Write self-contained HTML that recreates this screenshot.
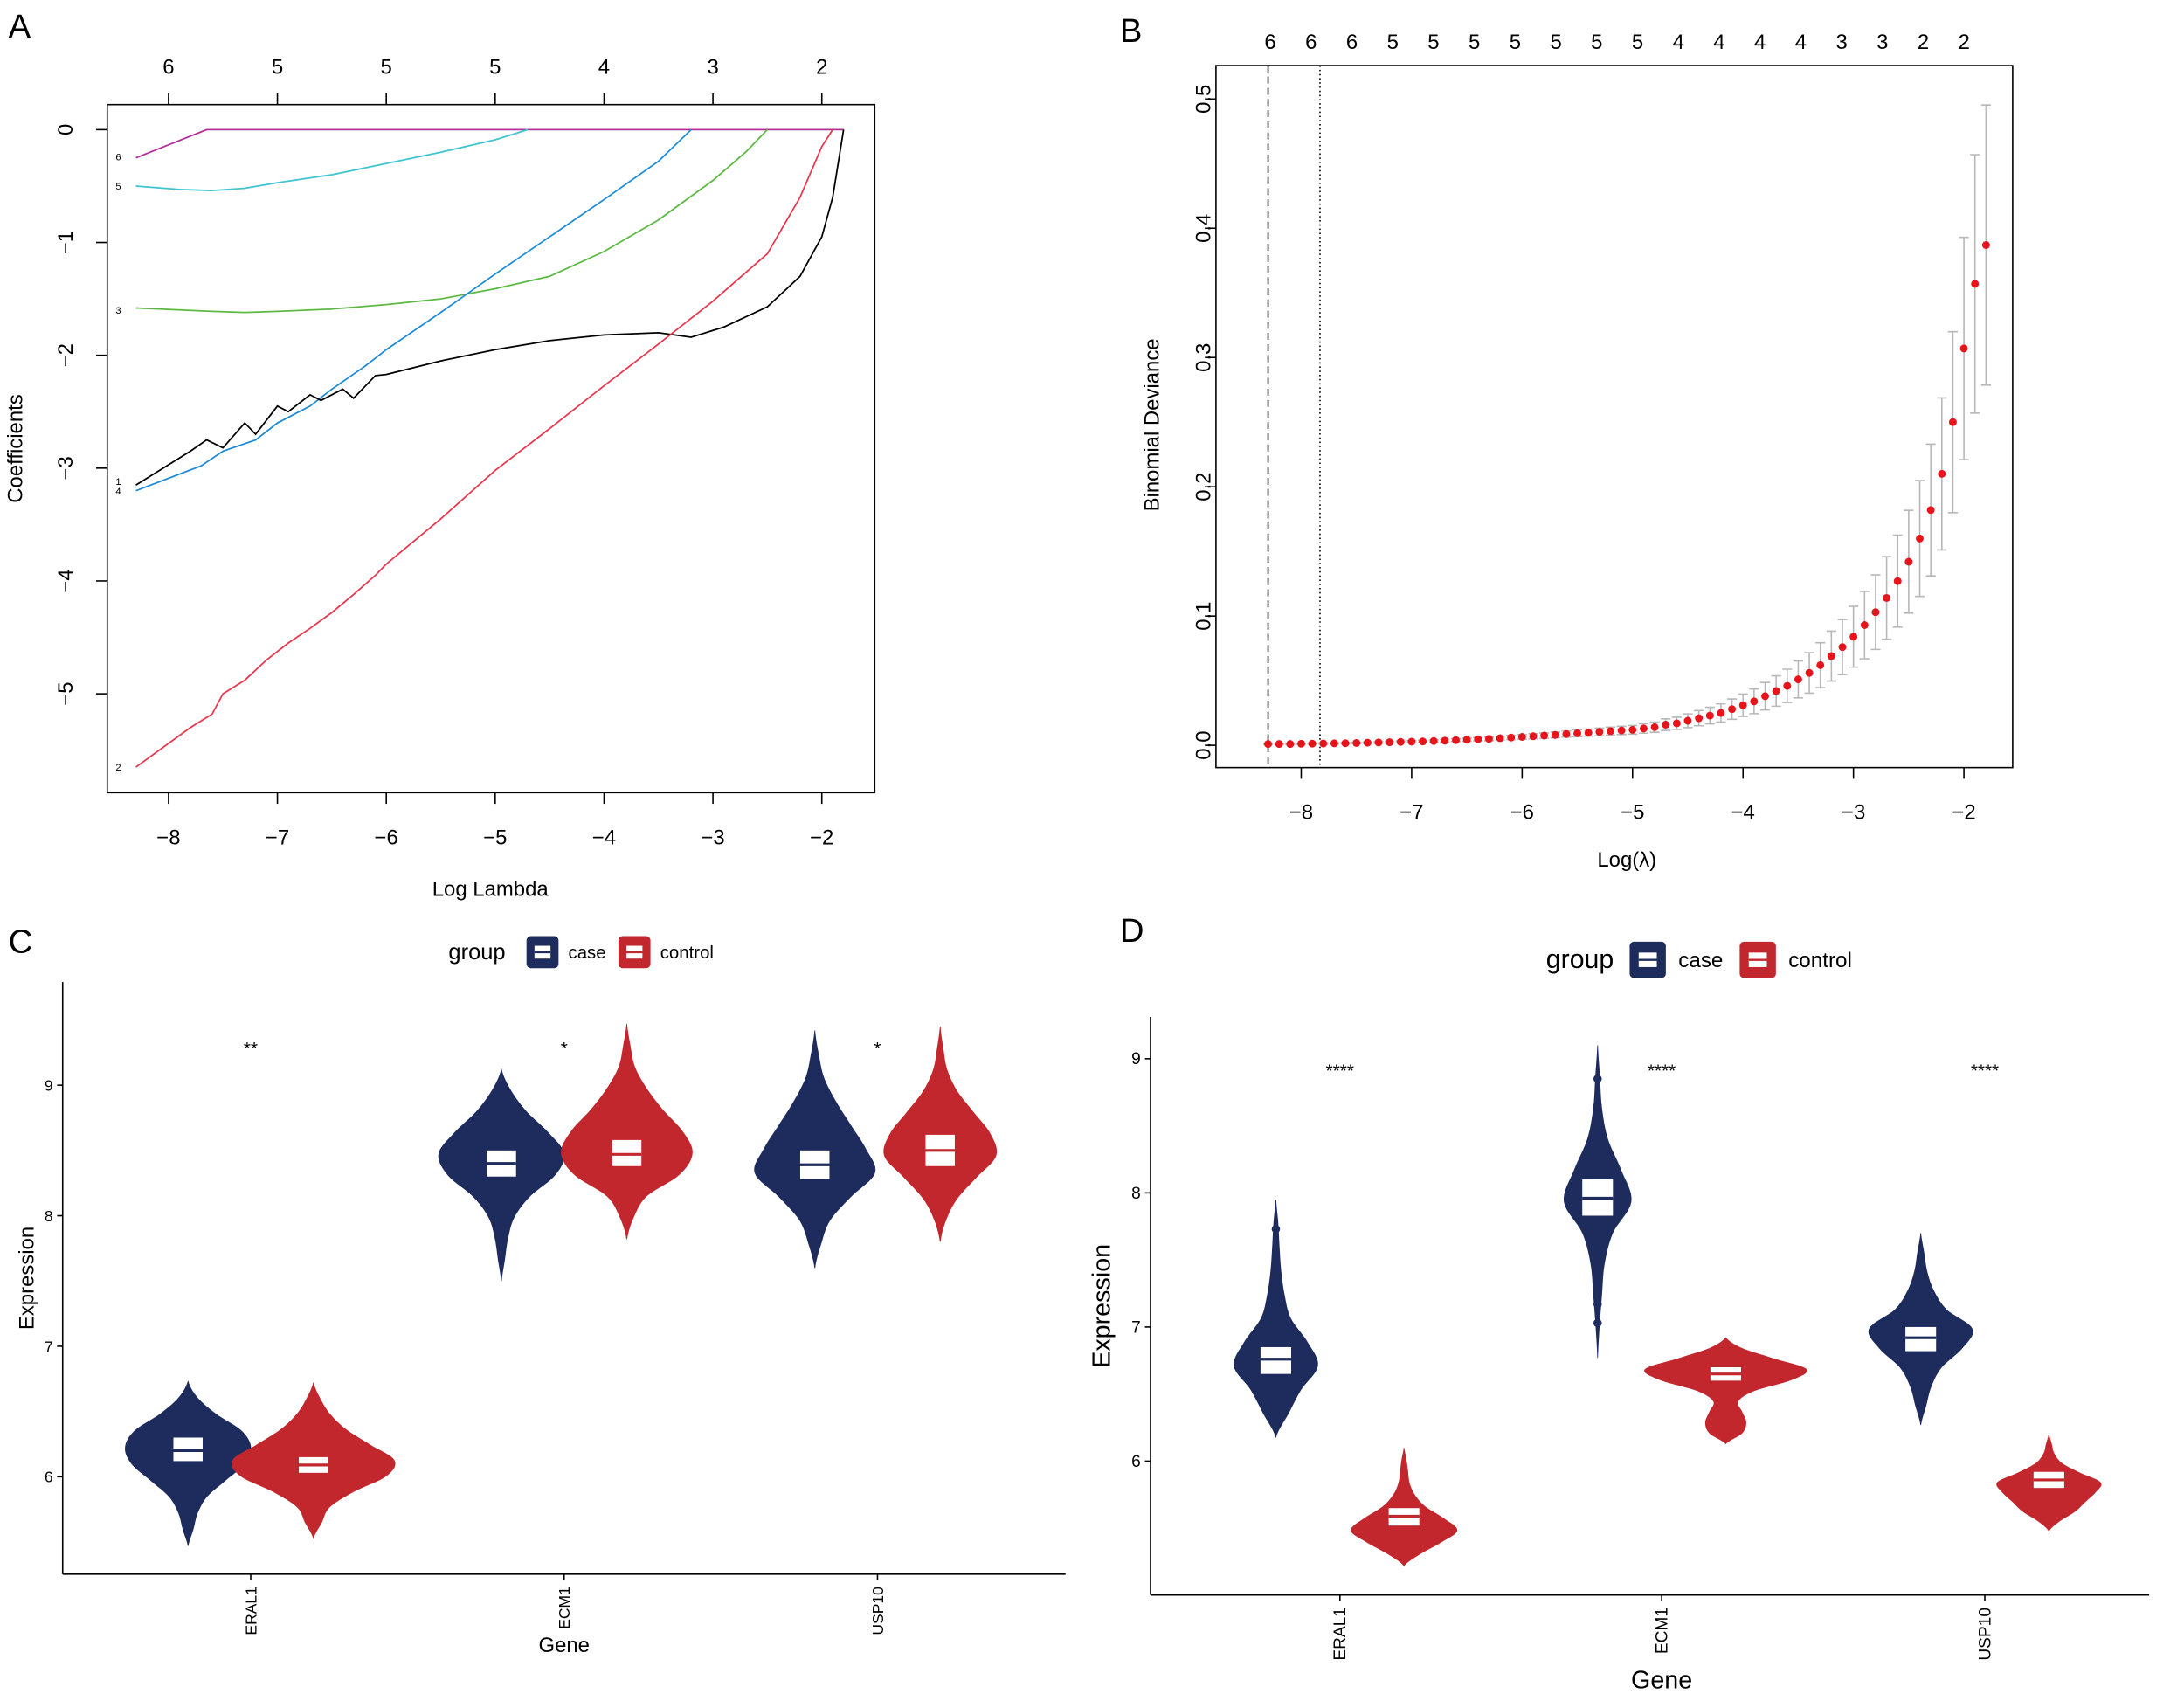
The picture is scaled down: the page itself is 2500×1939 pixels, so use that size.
<!DOCTYPE html>
<html><head><meta charset="utf-8"><style>html,body{margin:0;padding:0;background:#fff}svg{display:block}text{font-family:"Liberation Sans",Arial,sans-serif}</style></head>
<body>
<svg id="fig" width="2500" height="1939" viewBox="0 0 1568 1216" xmlns="http://www.w3.org/2000/svg">
<rect width="1568" height="1216" fill="#fff"/>
<text x="6" y="27" font-size="24">A</text>
<text x="804" y="30" font-size="24">B</text>
<text x="6" y="684" font-size="24">C</text>
<text x="804" y="676" font-size="24">D</text>
<g id="pa"></g>
<g id="pb"></g>
<g id="pc"></g>
<g id="pd"></g>
</svg>
<script>
// ---------- Panel A data ----------
const aLambda6=[-8.3,-7.65,-1.8];const aCoef6=[-0.25,0,0];
const aLambda5=[-8.3,-7.9,-7.6,-7.3,-7,-6.5,-6,-5.5,-5,-4.7];const aCoef5=[-0.5,-0.53,-0.54,-0.52,-0.47,-0.4,-0.3,-0.2,-0.09,0];
const aLambda3=[-8.3,-7.6,-7.3,-7,-6.5,-6,-5.5,-5,-4.5,-4,-3.5,-3,-2.7,-2.5];const aCoef3=[-1.58,-1.61,-1.62,-1.61,-1.59,-1.55,-1.5,-1.41,-1.3,-1.08,-0.8,-0.45,-0.2,0];
const aLambda4=[-8.3,-7.7,-7.5,-7.2,-7,-6.7,-6.5,-6.2,-6,-5.5,-5,-4.5,-4,-3.5,-3.2];const aCoef4=[-3.2,-2.98,-2.85,-2.75,-2.6,-2.45,-2.3,-2.1,-1.95,-1.62,-1.28,-0.95,-0.62,-0.28,0];
const aLambda1=[-8.3,-7.8,-7.65,-7.5,-7.3,-7.2,-7,-6.9,-6.7,-6.6,-6.4,-6.3,-6.1,-6,-5.5,-5,-4.5,-4,-3.5,-3.2,-2.9,-2.5,-2.2,-2,-1.9,-1.8];
const aCoef1=[-3.15,-2.85,-2.75,-2.82,-2.6,-2.7,-2.45,-2.5,-2.35,-2.4,-2.3,-2.38,-2.18,-2.17,-2.05,-1.95,-1.87,-1.82,-1.8,-1.84,-1.75,-1.57,-1.3,-0.95,-0.6,0];
const aLambda2=[-8.3,-7.8,-7.6,-7.5,-7.3,-7.1,-6.9,-6.7,-6.5,-6.3,-6.1,-6,-5.5,-5,-4.5,-4,-3.5,-3,-2.5,-2.2,-2,-1.9];
const aCoef2=[-5.65,-5.3,-5.18,-5.0,-4.88,-4.7,-4.55,-4.42,-4.28,-4.12,-3.95,-3.85,-3.45,-3.02,-2.65,-2.27,-1.9,-1.52,-1.1,-0.6,-0.15,0];
const aTop=["6","5","5","5","4","3","2"];const aTopAt=[-8,-7,-6,-5,-4,-3,-2];
const aXTicks=[-8,-7,-6,-5,-4,-3,-2];const aYTicks=[0,-1,-2,-3,-4,-5];
// ---------- Panel B data ----------
const bLambda=[-8.3,-8.2,-8.1,-8.0,-7.9,-7.8,-7.7,-7.6,-7.5,-7.4,-7.3,-7.2,-7.1,-7.0,-6.9,-6.8,-6.7,-6.6,-6.5,-6.4,-6.3,-6.2,-6.1,-6.0,-5.9,-5.8,-5.7,-5.6,-5.5,-5.4,-5.3,-5.2,-5.1,-5.0,-4.9,-4.8,-4.7,-4.6,-4.5,-4.4,-4.3,-4.2,-4.1,-4.0,-3.9,-3.8,-3.7,-3.6,-3.5,-3.4,-3.3,-3.2,-3.1,-3.0,-2.9,-2.8,-2.7,-2.6,-2.5,-2.4,-2.3,-2.2,-2.1,-2.0,-1.9,-1.8];
const bDev=[.001,.001,.001,.0012,.0013,.0014,.0015,.0016,.0018,.002,.0022,.0024,.0026,.0028,.003,.0033,.0036,.004,.0043,.0047,.005,.0055,.006,.0065,.007,.0075,.008,.0087,.0093,.0098,.0104,.011,.0115,.012,.013,.014,.016,.017,.019,.021,.023,.025,.028,.031,.034,.038,.042,.046,.051,.056,.062,.069,.076,.084,.093,.103,.114,.127,.142,.16,.182,.21,.25,.307,.357,.387];
const bTop=["6","6","6","5","5","5","5","5","5","5","4","4","4","4","3","3","2","2"];
const bXTicks=[-8,-7,-6,-5,-4,-3,-2];const bYTicks=[0,0.1,0.2,0.3,0.4,0.5];
const bMin=-8.3, b1se=-7.83;
// ---------- Panel C data ----------
const cGenes=["ERAL1","ECM1","USP10"];const cStars=["**","*","*"];
const cMin=[5.47,5.53,7.5,7.82,7.6,7.8];const cMax=[6.73,6.72,9.12,9.47,9.42,9.45];
const cWidth=[45,58,45,47,43,40];
const cQ1=[6.12,6.03,8.3,8.38,8.28,8.38];const cMed=[6.2,6.09,8.4,8.47,8.39,8.5];const cQ3=[6.3,6.15,8.5,8.58,8.5,8.62];
const cProfiles=[[0,0.08,0.15,0.3,0.6,0.9,1,0.85,0.45,0.15,0],[0,0.1,0.2,0.5,0.9,1,0.7,0.4,0.2,0.08,0],[0,0.05,0.1,0.2,0.45,0.85,1,0.75,0.4,0.15,0],[0,0.1,0.3,0.8,1,0.85,0.55,0.3,0.12,0.05,0],[0,0.1,0.25,0.6,1,0.85,0.6,0.35,0.15,0.06,0],[0,0.1,0.3,0.65,1,0.9,0.6,0.3,0.12,0.05,0]];
const cOutliers=[[],[],[7.73],[9.22],[],[9.18]];
const cYTicks=[6,7,8,9];
// ---------- Panel D data ----------
const dGenes=["ERAL1","ECM1","USP10"];const dStars=["****","****","****"];
const dMin=[6.18,5.22,6.77,6.13,6.27,5.48];const dMax=[7.95,6.1,9.1,6.92,7.7,6.2];
const dWidth=[30,38,24,58,37,37];
const dQ1=[6.65,5.52,7.83,6.6,6.82,5.8];const dMed=[6.76,5.59,7.96,6.65,6.92,5.86];const dQ3=[6.85,5.65,8.1,6.7,7.0,5.92];
const dProfiles=[[0,0.3,0.6,1,0.75,0.35,0.2,0.12,0.08,0.05,0],[0,0.3,0.7,1,0.75,0.4,0.2,0.1,0.07,0.04,0],[0,0.05,0.12,0.2,0.45,1,0.7,0.3,0.12,0.06,0],[0,0.2,0.25,0.2,0.15,0.35,0.8,1,0.6,0.2,0],[0,0.1,0.2,0.4,0.8,1,0.5,0.25,0.12,0.06,0],[0,0.2,0.5,0.7,0.9,1,0.6,0.25,0.1,0.05,0]];
const dOutliers=[[7.73],[],[8.85,8.65,7.17,7.03],[],[7.5],[]];
const dYTicks=[6,7,8,9];

const NS="http://www.w3.org/2000/svg";
function mk(parent,tag,attrs,text){const e=document.createElementNS(NS,tag);for(const k in attrs)e.setAttribute(k,attrs[k]);if(text!==undefined)e.textContent=text;parent.appendChild(e);return e;}

// ===== Panel A =====
(function(){
const g=document.getElementById('pa');
const X=v=>121+(v+8)*78.17, Y=v=>93-v*81;
const box=mk(g,'rect',{x:77,y:75,width:551,height:494,fill:'none',stroke:'#000','stroke-width':1});


const series=[[aLambda6,aCoef6,'#b4309b','coef-line-6'],[aLambda5,aCoef5,'#3fc5d0','coef-line-5'],[aLambda3,aCoef3,'#5db844','coef-line-3'],[aLambda4,aCoef4,'#1c8ad6','coef-line-4'],[aLambda1,aCoef1,'#000','coef-line-1'],[aLambda2,aCoef2,'#e8374d','coef-line-2']];
series.forEach(s=>{const p=mk(g,'polyline',{points:s[0].map((l,i)=>X(l)+','+Y(s[1][i])).join(' '),fill:'none',stroke:s[2],'stroke-width':1.1});

});
aXTicks.forEach(t=>{mk(g,'line',{x1:X(t),x2:X(t),y1:569,y2:577,stroke:'#000'});
const tx=mk(g,'text',{x:X(t),y:606,'font-size':15,'text-anchor':'middle'},t===0?'0':'\u2212'+Math.abs(t));

});
aYTicks.forEach(t=>{mk(g,'line',{x1:69,x2:77,y1:Y(t),y2:Y(t),stroke:'#000'});
const tx=mk(g,'text',{x:0,y:0,'font-size':15,'text-anchor':'middle',transform:`translate(52,${Y(t)}) rotate(-90)`},t===0?'0':'\u2212'+Math.abs(t));

});
aTop.forEach((s,i)=>{mk(g,'line',{x1:X(aTopAt[i]),x2:X(aTopAt[i]),y1:67,y2:75,stroke:'#000'});
const tx=mk(g,'text',{x:X(aTopAt[i]),y:53,'font-size':15,'text-anchor':'middle'},s);

});
[['6',115],['5',136],['3',225],['1',348],['4',355],['2',553]].forEach(l=>{mk(g,'text',{x:85,y:l[1],'font-size':7,'text-anchor':'middle'},l[0]);});
const xt=mk(g,'text',{x:352,y:643,'font-size':15,'text-anchor':'middle'},'Log Lambda');


const yt=mk(g,'text',{x:0,y:0,'font-size':15,'text-anchor':'middle',transform:'translate(16,322) rotate(-90)'},'Coefficients');


})();

// ===== Panel B =====
(function(){
const g=document.getElementById('pb');
const X=v=>1410+(v+2)*79.3, Y=v=>535-v*928;
const box=mk(g,'rect',{x:873,y:47,width:572,height:504,fill:'none',stroke:'#000'});


const l1=mk(g,'line',{x1:X(bMin),x2:X(bMin),y1:47,y2:551,stroke:'#000','stroke-dasharray':'5,3'});


const l2=mk(g,'line',{x1:X(b1se),x2:X(b1se),y1:47,y2:551,stroke:'#000','stroke-dasharray':'1,2'});


bLambda.forEach((l,i)=>{const v=bDev[i],hi=v*1.28,lo=v*0.72,x=X(l);
const eb=mk(g,'path',{d:`M${x},${Y(hi)}V${Y(lo)}M${x-3.5},${Y(hi)}h7M${x-3.5},${Y(lo)}h7`,stroke:'#b8b8b8','stroke-width':1,fill:'none'});

});
bLambda.forEach((l,i)=>{const c=mk(g,'circle',{cx:X(l),cy:Y(bDev[i]),r:2.8,fill:'#e8141c'});

});
bXTicks.forEach(t=>{mk(g,'line',{x1:X(t),x2:X(t),y1:551,y2:559,stroke:'#000'});
const tx=mk(g,'text',{x:X(t),y:588,'font-size':15,'text-anchor':'middle'},'\u2212'+Math.abs(t));

});
bYTicks.forEach(t=>{mk(g,'line',{x1:865,x2:873,y1:Y(t),y2:Y(t),stroke:'#000'});
const tx=mk(g,'text',{x:0,y:0,'font-size':15,'text-anchor':'middle',transform:`translate(869,${Y(t)}) rotate(-90)`},t.toFixed(1));

});
bTop.forEach((s,i)=>{const x=912+i*29.3;
const tx=mk(g,'text',{x:x,y:35,'font-size':15,'text-anchor':'middle'},s);

});
const xt=mk(g,'text',{x:1168,y:622,'font-size':15,'text-anchor':'middle'},'Log(\u03bb)');


const yt=mk(g,'text',{x:0,y:0,'font-size':15,'text-anchor':'middle',transform:'translate(832,305) rotate(-90)'},'Binomial Deviance');


})();

// ===== violin helper =====
function violinPath(cx,Y,min,max,w,prof){
 const n=prof.length,steps=80,pts=[];
 for(let s=0;s<=steps;s++){const t=s/steps*(n-1),i=Math.min(Math.floor(t),n-2),f=t-i;
  const p0=prof[Math.max(i-1,0)],p1=prof[i],p2=prof[i+1],p3=prof[Math.min(i+2,n-1)];
  let v=0.5*((2*p1)+(-p0+p2)*f+(2*p0-5*p1+4*p2-p3)*f*f+(-p0+3*p1-3*p2+p3)*f*f*f);
  v=Math.max(v,0);const val=min+(max-min)*t/(n-1);pts.push([val,v*w]);}
 let d='M'+pts.map(p=>(cx+p[1])+','+Y(p[0])).join(' L');
 d+=' L'+pts.slice().reverse().map(p=>(cx-p[1])+','+Y(p[0])).join(' L')+'Z';
 return d;
}
function violinPanel(gid,o){
 const g=document.getElementById(gid);
 const Y=o.Y;
 mk(g,'line',{x1:o.left,x2:o.left,y1:o.top,y2:o.bottom,stroke:'#000','stroke-width':1});
 mk(g,'line',{x1:o.left,x2:o.right,y1:o.bottom,y2:o.bottom,stroke:'#000','stroke-width':1});
 o.yTicks.forEach(t=>{mk(g,'line',{x1:o.left-4,x2:o.left,y1:Y(t),y2:Y(t),stroke:'#000'});
  const tx=mk(g,'text',{x:o.left-7,y:Y(t)+4,'font-size':o.tick,'text-anchor':'end'},String(t));
  
  });
 o.genes.forEach((gn,gi)=>{const gx=o.gx[gi];
  mk(g,'line',{x1:gx,x2:gx,y1:o.bottom,y2:o.bottom+4,stroke:'#000'});
  const tx=mk(g,'text',{x:0,y:0,'font-size':o.tick,'text-anchor':'end',transform:`translate(${gx+4},${o.bottom+9}) rotate(-90)`},gn);
  
  
  const st=mk(g,'text',{x:gx,y:o.starY,'font-size':o.star,'text-anchor':'middle'},o.stars[gi]);
  
  
  for(let k=0;k<2;k++){const idx=gi*2+k,cx=gx+(k?o.off:-o.off),col=k?'#c1272d':'#1e2b5d';
   const v=mk(g,'path',{d:violinPath(cx,Y,o.min[idx],o.max[idx],o.w[idx],o.prof[idx]),fill:col,stroke:col,'stroke-width':0.5});
   
   
   o.out[idx].forEach(u=>{const c=mk(g,'circle',{cx:cx,cy:Y(u),r:3,fill:col});
    
    });
   const bw=o.bw;
   const b=mk(g,'rect',{x:cx-bw/2,y:Y(o.q3[idx]),width:bw,height:Y(o.q1[idx])-Y(o.q3[idx]),fill:'#fff'});
   
   
   const m=mk(g,'line',{x1:cx-bw/2,x2:cx+bw/2,y1:Y(o.med[idx]),y2:Y(o.med[idx]),stroke:col,'stroke-width':2});
   
   
  }});
 const xt=mk(g,'text',{x:o.gx[1],y:o.xTitleY,'font-size':o.title,'text-anchor':'middle'},'Gene');
 
 
 const yt=mk(g,'text',{x:0,y:0,'font-size':o.title,'text-anchor':'middle',transform:`translate(${o.yTitleX},${(o.top+o.bottom)/2}) rotate(-90)`},'Expression');
 
 
 const L=o.leg;
 const lt=mk(g,'text',{x:L.x,y:L.y+L.s*0.72,'font-size':L.f,'text-anchor':'start'},'group');
 
 
 [['case','#1e2b5d',L.cx,L.tx],['control','#c1272d',L.kx,L.ktx]].forEach(e=>{
  const r=mk(g,'rect',{x:e[2],y:L.y,width:L.s,height:L.s,rx:3,fill:e[1]});
  
  
  mk(g,'rect',{x:e[2]+L.s*0.25,y:L.y+L.s*0.3,width:L.s*0.5,height:L.s*0.4,fill:'#fff'});
  mk(g,'line',{x1:e[2]+L.s*0.25,x2:e[2]+L.s*0.75,y1:L.y+L.s*0.5,y2:L.y+L.s*0.5,stroke:e[1],'stroke-width':1.5});
  const t=mk(g,'text',{x:e[3],y:L.y+L.s*0.7,'font-size':L.f*0.8},e[0]);
  
  });
}
violinPanel('pc',{Y:v=>779+(9-v)*93.7,left:45,right:765,top:705,bottom:1130,yTicks:cYTicks,genes:cGenes,gx:[180,405,630],off:45,
 min:cMin,max:cMax,w:cWidth,prof:cProfiles,q1:cQ1,med:cMed,q3:cQ3,out:cOutliers,stars:cStars,starY:757,bw:21,tick:11,star:13,title:15,
 xTitleY:1186,yTitleX:24,leg:{x:322,y:672,s:23,f:16,cx:378,tx:408,kx:444,ktx:474}});
violinPanel('pd',{Y:v=>760+(9-v)*96.3,left:826,right:1543,top:730,bottom:1145,yTicks:dYTicks,genes:dGenes,gx:[962,1193,1425],off:46,
 min:dMin,max:dMax,w:dWidth,prof:dProfiles,q1:dQ1,med:dMed,q3:dQ3,out:dOutliers,stars:dStars,starY:773,bw:22,tick:12,star:13,title:18,
 xTitleY:1212,yTitleX:797,leg:{x:1110,y:676,s:26,f:19,cx:1170,tx:1205,kx:1249,ktx:1284}});
</script>
</body></html>
